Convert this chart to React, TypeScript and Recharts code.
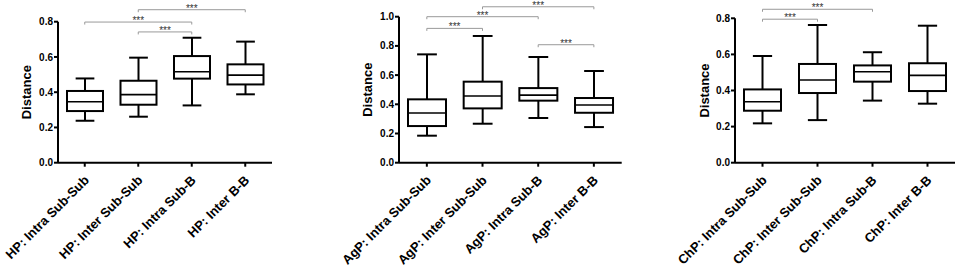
import React from 'react';
import { ComposedChart, Bar, XAxis, YAxis, ReferenceLine } from 'recharts';

// categories per panel
const hpCategories = ['HP: Intra Sub-Sub', 'HP: Inter Sub-Sub', 'HP: Intra Sub-B', 'HP: Inter B-B'];
const agpCategories = ['AgP: Intra Sub-Sub', 'AgP: Inter Sub-Sub', 'AgP: Intra Sub-B', 'AgP: Inter B-B'];
const chpCategories = ['ChP: Intra Sub-Sub', 'ChP: Inter Sub-Sub', 'ChP: Intra Sub-B', 'ChP: Inter B-B'];

// box plot values
const hpMin = [0.238, 0.261, 0.325, 0.388];
const hpQ1 = [0.293, 0.329, 0.477, 0.444];
const hpMedian = [0.346, 0.386, 0.516, 0.497];
const hpQ3 = [0.407, 0.465, 0.605, 0.558];
const hpMax = [0.478, 0.596, 0.709, 0.687];

const agpMin = [0.185, 0.267, 0.306, 0.244];
const agpQ1 = [0.251, 0.372, 0.425, 0.342];
const agpMedian = [0.34, 0.457, 0.463, 0.395];
const agpQ3 = [0.434, 0.555, 0.511, 0.443];
const agpMax = [0.742, 0.868, 0.724, 0.628];

const chpMin = [0.218, 0.236, 0.344, 0.327];
const chpQ1 = [0.288, 0.386, 0.449, 0.397];
const chpMedian = [0.338, 0.458, 0.504, 0.484];
const chpQ3 = [0.406, 0.547, 0.539, 0.551];
const chpMax = [0.591, 0.763, 0.612, 0.759];

// y ticks
const ticks08 = [0, 0.2, 0.4, 0.6, 0.8];
const ticks10 = [0, 0.2, 0.4, 0.6, 0.8, 1.0];

// significance brackets: [from, to, height]
const hpBrackets: [number, number, number][] = [[0, 2, 0.798], [1, 2, 0.742], [1, 3, 0.868]];
const agpBrackets: [number, number, number][] = [[0, 1, 0.92], [0, 2, 1.0], [1, 3, 1.068], [2, 3, 0.808]];
const chpBrackets: [number, number, number][] = [[0, 1, 0.795], [0, 2, 0.85]];

interface Row {
  name: string;
  min: number;
  q1: number;
  median: number;
  q3: number;
  max: number;
}

const buildRows = (cats: string[], min: number[], q1: number[], median: number[], q3: number[], max: number[]): Row[] =>
  cats.map((name, i) => ({ name, min: min[i], q1: q1[i], median: median[i], q3: q3[i], max: max[i] }));

const BoxShape = (props: any) => {
  const { x, y, width, height, payload } = props;
  const top = Math.min(y, y + height);
  const bottom = Math.max(y, y + height);
  const span = payload.max - payload.min;
  const py = (v: number) => bottom - ((v - payload.min) / span) * (bottom - top);
  const cx = x + width / 2;
  const cap = width * 0.52;
  return (
    <g stroke="#000" strokeWidth={2} fill="none">
      <line x1={cx} x2={cx} y1={py(payload.max)} y2={py(payload.q3)} />
      <line x1={cx} x2={cx} y1={py(payload.q1)} y2={py(payload.min)} />
      <line x1={cx - cap / 2} x2={cx + cap / 2} y1={py(payload.max)} y2={py(payload.max)} />
      <line x1={cx - cap / 2} x2={cx + cap / 2} y1={py(payload.min)} y2={py(payload.min)} />
      <rect x={x} y={py(payload.q3)} width={width} height={py(payload.q1) - py(payload.q3)} fill="#fff" />
      <line x1={x} x2={x + width} y1={py(payload.median)} y2={py(payload.median)} strokeWidth={1.6} />
    </g>
  );
};

const BracketShape = (props: any) => {
  const { x1, y1, x2 } = props;
  return (
    <g>
      <path d={`M${x1},${y1 + 2.5}V${y1}H${x2}V${y1 + 2.5}`} stroke="#999" strokeWidth={1} fill="none" />
      <text x={(x1 + x2) / 2} y={y1 + 2} textAnchor="middle" fontSize={10} fill="#333" fontFamily="Liberation Sans, Arial, sans-serif">
        ***
      </text>
    </g>
  );
};

const XTick = (props: any) => {
  const { x, payload } = props;
  const ax = x + 5;
  const ay = 181;
  return (
    <text
      x={ax}
      y={ay}
      transform={`rotate(-45, ${ax}, ${ay})`}
      textAnchor="end"
      fontSize={13}
      fontWeight="bold"
      fill="#000"
      fontFamily="Liberation Sans, Arial, sans-serif"
    >
      {payload.value}
    </text>
  );
};

const YLabel = (props: any) => {
  const { viewBox } = props;
  const lx = viewBox.x + viewBox.width - 31;
  const ly = viewBox.y + viewBox.height / 2;
  return (
    <text
      x={lx}
      y={ly}
      transform={`rotate(-90, ${lx}, ${ly})`}
      textAnchor="middle"
      dominantBaseline="central"
      fontSize={13}
      fontWeight="bold"
      fill="#000"
      fontFamily="Liberation Sans, Arial, sans-serif"
    >
      Distance
    </text>
  );
};

interface PanelProps {
  left: number;
  width: number;
  top: number;
  marginLeft: number;
  marginRight: number;
  cats: string[];
  rows: Row[];
  yMax: number;
  ticks: number[];
  brackets: [number, number, number][];
  barSize: number;
}

const Panel: React.FC<PanelProps> = ({ left, width, top, marginLeft, marginRight, cats, rows, yMax, ticks, brackets, barSize }) => (
  <div style={{ position: 'absolute', left, top: 0 }}>
    <ComposedChart width={width} height={273} data={rows} margin={{ top, right: marginRight, left: marginLeft, bottom: 0 }}>
      <XAxis
        dataKey="name"
        height={273 - 162.7}
        interval={0}
        tick={<XTick />}
        axisLine={{ stroke: '#000', strokeWidth: 2 }}
        tickLine={{ stroke: '#000', strokeWidth: 2 }}
        tickSize={4}
      />
      <YAxis
        width={40}
        domain={[0, yMax]}
        ticks={ticks}
        interval={0}
        tickFormatter={(v: number) => v.toFixed(1)}
        tick={{ fontSize: 10, fontWeight: 'bold', fill: '#000', fontFamily: 'Liberation Sans, Arial, sans-serif' }}
        axisLine={{ stroke: '#000', strokeWidth: 2 }}
        tickLine={{ stroke: '#000', strokeWidth: 2 }}
        tickSize={4}
        tickMargin={1}
        label={<YLabel />}
      />
      <Bar dataKey={(d: Row) => [d.min, d.max]} barSize={barSize} shape={<BoxShape />} isAnimationActive={false} />
      {brackets.map(([a, b, h], i) => (
        <ReferenceLine
          key={i}
          segment={[{ x: cats[a], y: h }, { x: cats[b], y: h }]}
          ifOverflow="visible"
          shape={<BracketShape />}
        />
      ))}
    </ComposedChart>
  </div>
);

const App: React.FC = () => {
  const hpRows = buildRows(hpCategories, hpMin, hpQ1, hpMedian, hpQ3, hpMax);
  const agpRows = buildRows(agpCategories, agpMin, agpQ1, agpMedian, agpQ3, agpMax);
  const chpRows = buildRows(chpCategories, chpMin, chpQ1, chpMedian, chpQ3, chpMax);
  return (
    <div style={{ position: 'absolute', left: 0, top: 0, width: 957, height: 273, background: '#fff', overflow: 'hidden' }}>
      <Panel left={0} width={290} top={21.7} marginLeft={18} marginRight={18} cats={hpCategories} rows={hpRows} yMax={0.8} ticks={ticks08} brackets={hpBrackets} barSize={36} />
      <Panel left={330} width={310} top={16.7} marginLeft={29} marginRight={18.3} cats={agpCategories} rows={agpRows} yMax={1.0} ticks={ticks10} brackets={agpBrackets} barSize={38} />
      <Panel left={660} width={297} top={18.3} marginLeft={35} marginRight={2} cats={chpCategories} rows={chpRows} yMax={0.8} ticks={ticks08} brackets={chpBrackets} barSize={37} />
    </div>
  );
};

export default App;
